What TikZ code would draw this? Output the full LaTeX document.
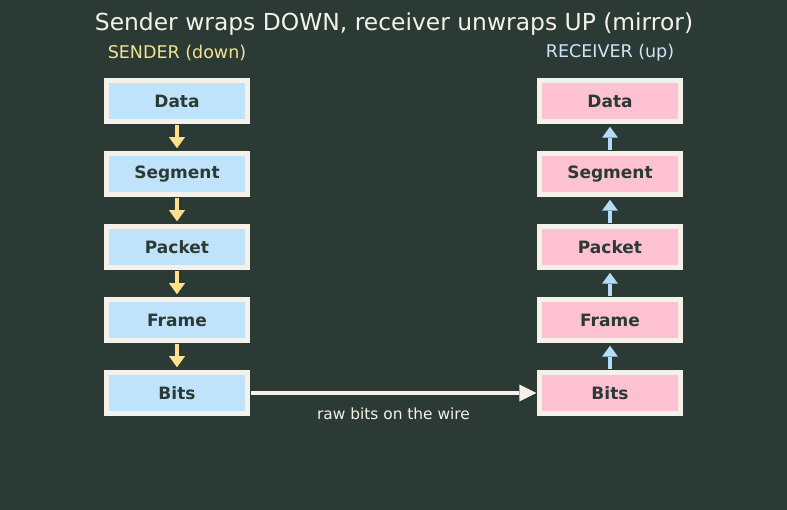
\documentclass[tikz,border=0pt]{standalone}
\usepackage{fontspec}
\setmainfont{DejaVu Sans}
\usetikzlibrary{arrows.meta}
\definecolor{bgdark}{HTML}{2B3A34}
\definecolor{rim}{HTML}{F4F2E8}
\definecolor{sendfill}{HTML}{BFE3FB}
\definecolor{recvfill}{HTML}{FFC2D3}
\definecolor{inktext}{HTML}{2B3A34}
\definecolor{sendarrow}{HTML}{FFE08C}
\definecolor{recvarrow}{HTML}{B5DDF7}
\definecolor{sendhead}{HTML}{F3E29A}
\definecolor{recvhead}{HTML}{CDE6F7}
\tikzset{
  layer/.style={draw=rim, line width=4.5pt, minimum width=141pt, minimum height=41pt,
    inner sep=0pt, text=inktext, font=\fontsize{17}{19}\selectfont\bfseries},
  sendbox/.style={layer, fill=sendfill},
  recvbox/.style={layer, fill=recvfill},
  wrap/.style={line width=4pt, shorten <=1pt, shorten >=3pt,
    -{Triangle[length=11pt,width=16pt,line width=0pt]}}
}
\begin{document}
\begin{tikzpicture}[x=1pt, y=-1pt]
  \fill[bgdark] (0,0) rectangle (787,510);
  \useasboundingbox (0,0) rectangle (787,510);
  \node [text=rim, font=\fontsize{23.4}{26}\selectfont] (title) at (394,24) {Sender wraps DOWN, receiver unwraps UP (mirror)};
  \node [text=sendhead, font=\fontsize{17.5}{20}\selectfont] (sendlbl) at (177,53) {SENDER (down)};
  \node [text=recvhead, font=\fontsize{17.5}{20}\selectfont] (recvlbl) at (610,53) {RECEIVER (up)};
  % sender stack
  \node [sendbox] (s1) at (177,101) {Data};
  \node [sendbox] (s2) at (177,174) {Segment};
  \node [sendbox] (s3) at (177,247) {Packet};
  \node [sendbox] (s4) at (177,320) {Frame};
  \node [sendbox] (s5) at (177,393) {Bits};
  % receiver stack
  \node [recvbox] (r1) at (610,101) {Data};
  \node [recvbox] (r2) at (610,174) {Segment};
  \node [recvbox] (r3) at (610,247) {Packet};
  \node [recvbox] (r4) at (610,320) {Frame};
  \node [recvbox] (r5) at (610,393) {Bits};
  \foreach \a/\b in {1/2,2/3,3/4,4/5} {
    \draw[wrap, sendarrow] (s\a) -- (s\b);
    \draw[wrap, recvarrow] (r\b) -- (r\a);
  }
  \draw[wrap, rim, line width=3.5pt, shorten >=1pt, -{Triangle[length=17pt,width=17pt,line width=0pt]}] (s5) -- (r5)
    node [midway, below=10pt, text=rim, font=\fontsize{15.4}{17}\selectfont] (wirelbl) {raw bits on the wire};
\end{tikzpicture}
\end{document}
